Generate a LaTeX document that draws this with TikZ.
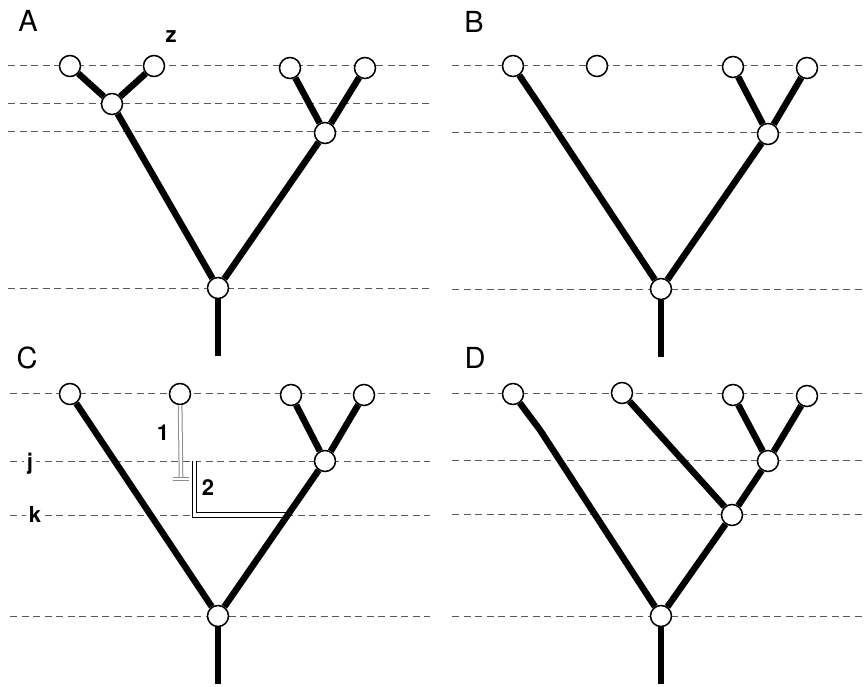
\documentclass[tikz,border=0pt]{standalone}
\usepackage{fontspec}
\setmainfont{TeX Gyre Heros}
\begin{document}
\begin{tikzpicture}[x=1pt,y=-1pt,
  guide/.style={draw=black!65, line width=1pt, dash pattern=on 7pt off 4.5pt},
  branch/.style={line width=6.5pt, line join=round},
  taxon/.style={circle, draw, fill=white, line width=1.5pt, minimum size=21pt, inner sep=0pt},
  panel/.style={font=\fontsize{29}{30}\selectfont, anchor=base, inner sep=0pt},
  lab/.style={font=\bfseries\fontsize{22}{23}\selectfont, anchor=base, inner sep=0pt},
  levlab/.style={font=\bfseries\fontsize{22}{23}\selectfont, anchor=base, inner sep=2.5pt, fill=white},
  moveone/.style={draw=black!45, line width=1pt, double=white, double distance=2.6pt},
  movetwo/.style={draw=black, line width=1.1pt, double=white, double distance=3.4pt}
]
\useasboundingbox (0,0) rectangle (865,687);

% guides
\foreach \y in {66,104,132,288} \draw[guide] (8,\y) -- (430,\y);
\foreach \y in {66,133,289} \draw[guide] (452,\y) -- (862,\y);
\foreach \y in {393,461,515,616} \draw[guide] (10,\y) -- (430,\y);
\foreach \y in {393,460,514,616} \draw[guide] (452,\y) -- (862,\y);

% nodes A
\node[taxon] (a1) at (70,66) {};
\node[taxon] (a2) at (154,66) {};
\node[taxon] (a3) at (290,68) {};
\node[taxon] (a4) at (365,68) {};
\node[taxon] (a5) at (112,104) {};
\node[taxon] (a6) at (325,133) {};
\node[taxon] (a7) at (218,288) {};
\coordinate (a8) at (218,356);
% nodes B
\node[taxon] (b1) at (513,66) {};
\node[taxon] (b2) at (597,66) {};
\node[taxon] (b3) at (733,67) {};
\node[taxon] (b4) at (807,68) {};
\node[taxon] (b6) at (768,134) {};
\node[taxon] (b7) at (661,289) {};
\coordinate (bk) at (538,103);
\coordinate (b8) at (661,357);
% nodes C
\node[taxon] (c1) at (70,394) {};
\node[taxon] (c2) at (180,394) {};
\node[taxon] (c3) at (291,395) {};
\node[taxon] (c4) at (364,395) {};
\node[taxon] (c6) at (325,461) {};
\node[taxon] (c7) at (218,616) {};
\coordinate (c8) at (218,684);
% nodes D
\node[taxon] (d1) at (513,394) {};
\node[taxon] (d2) at (622,393) {};
\node[taxon] (d3) at (733,395) {};
\node[taxon] (d4) at (807,396) {};
\node[taxon] (d5) at (768,461) {};
\node[taxon] (d6) at (732,515) {};
\node[taxon] (d7) at (661,616) {};
\coordinate (dk) at (540,430);
\coordinate (d8) at (661,684);

% moves in C
\coordinate (m1) at (181,478);
\coordinate (m1l) at (173,479);
\coordinate (m1r) at (189,479);
\coordinate (m2s) at (194.5,461);
\coordinate (m2c) at (194.5,515);
\coordinate (m2e) at (289,515);
\draw[moveone] (c2) -- (m1);
\draw[moveone] (m1l) -- (m1r);
\draw[movetwo] (m2s) -- (m2c) -- (m2e);

% branches
\draw[branch] (a1) -- (a5);
\draw[branch] (a2) -- (a5);
\draw[branch] (a5) -- (a7);
\draw[branch] (a3) -- (a6);
\draw[branch] (a4) -- (a6);
\draw[branch] (a6) -- (a7);
\draw[branch] (a7) -- (a8);

\draw[branch] (b1) -- (bk) -- (b7);
\draw[branch] (b3) -- (b6);
\draw[branch] (b4) -- (b6);
\draw[branch] (b6) -- (b7);
\draw[branch] (b7) -- (b8);

\draw[branch] (c1) -- (c7);
\draw[branch] (c3) -- (c6);
\draw[branch] (c4) -- (c6);
\draw[branch] (c6) -- (c7);
\draw[branch] (c7) -- (c8);

\draw[branch] (d1) -- (dk) -- (d7);
\draw[branch] (d2) -- (d6);
\draw[branch] (d3) -- (d5);
\draw[branch] (d4) -- (d5);
\draw[branch] (d5) -- (d6);
\draw[branch] (d6) -- (d7);
\draw[branch] (d7) -- (d8);

% labels
\node[panel] (pa) at (28,32) {A};
\node[panel] (pb) at (474,33) {B};
\node[panel] (pc) at (27,368) {C};
\node[panel] (pd) at (475,368) {D};
\node[lab] (lz) at (171,43) {z};
\node[lab] (l1) at (163,440) {1};
\node[lab] (l2) at (208,495) {2};
\node[levlab] (lj) at (30,469) {j};
\node[levlab] (lk) at (35,522) {k};
\end{tikzpicture}
\end{document}
